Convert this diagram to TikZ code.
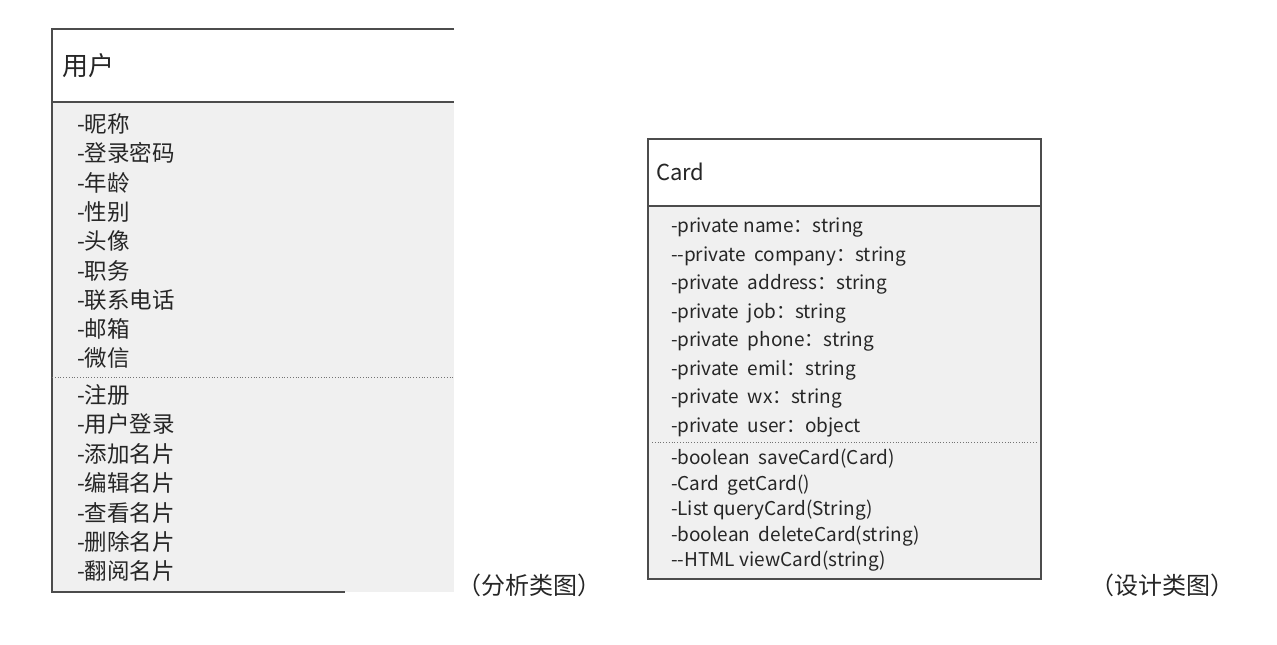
\documentclass[tikz,border=0pt]{standalone}
\usepackage{fontspec}
\setmainfont{Noto Sans CJK SC}
\begin{document}
\begin{tikzpicture}[x=1pt,y=-1pt,
  every node/.style={inner sep=0pt,outer sep=0pt,text=black!85},
  lrow/.style={anchor=west,font=\fontsize{22.5}{26}\selectfont},
  rrow/.style={anchor=west,font=\fontsize{19}{23}\selectfont},
  captext/.style={anchor=west,font=\fontsize{24}{28}\selectfont},
  boxline/.style={draw=black!70,line width=1.2pt},
  sepline/.style={draw=black!55,line width=0.8pt,dotted}]
\useasboundingbox (0,0) rectangle (1277,645);
\fill[white] (0,0) rectangle (1277,645);
% left box
\fill[black!6] (52,102) rectangle (454,592);
\draw[boxline] (454,29) -- (52,29) -- (52,592) -- (345,592);
\draw[boxline] (52,102) -- (454,102);
\draw[sepline] (52,377) -- (454,377);
\node[anchor=west,font=\fontsize{26}{30}\selectfont] (u) at (62,66) {用户};
\foreach \t [count=\i] in {-昵称,-登录密码,-年龄,-性别,-头像,-职务,-联系电话,-邮箱,-微信}
  \node[lrow] (ua\i) at (77,{124+(\i-1)*29.3}) {\t};
\foreach \t [count=\i] in {-注册,-用户登录,-添加名片,-编辑名片,-查看名片,-删除名片,-翻阅名片}
  \node[lrow] (um\i) at (77,{395+(\i-1)*29.4}) {\t};
\node[captext] (c1) at (457,585) {（分析类图）};
% right box
\fill[black!6] (648,206) rectangle (1041,579);
\draw[boxline] (648,139) rectangle (1041,579);
\draw[boxline] (648,206) -- (1041,206);
\draw[sepline] (652,442) -- (1036,442);
\node[anchor=west,font=\fontsize{22}{26}\selectfont] (card) at (656,172) {Card};
\foreach \t [count=\i] in {-private name：string,{-}{-}private\ \ company：string,-private\ \ address：string,-private\ \ job：string,-private\ \ phone：string,-private\ \ emil：string,-private\ \ wx：string,-private\ \ user：object}
  \node[rrow] (ca\i) at (671,{228+(\i-1)*28.4}) {\t};
\foreach \t [count=\i] in {-boolean\ \ saveCard(Card),-Card\ \ getCard(),-List\ queryCard(String),-boolean\ \ deleteCard(string),{-}{-}HTML\ viewCard(string)}
  \node[rrow] (cm\i) at (671,{459+(\i-1)*25.6}) {\t};
\node[captext] (c2) at (1090,585) {（设计类图）};
\end{tikzpicture}
\end{document}
